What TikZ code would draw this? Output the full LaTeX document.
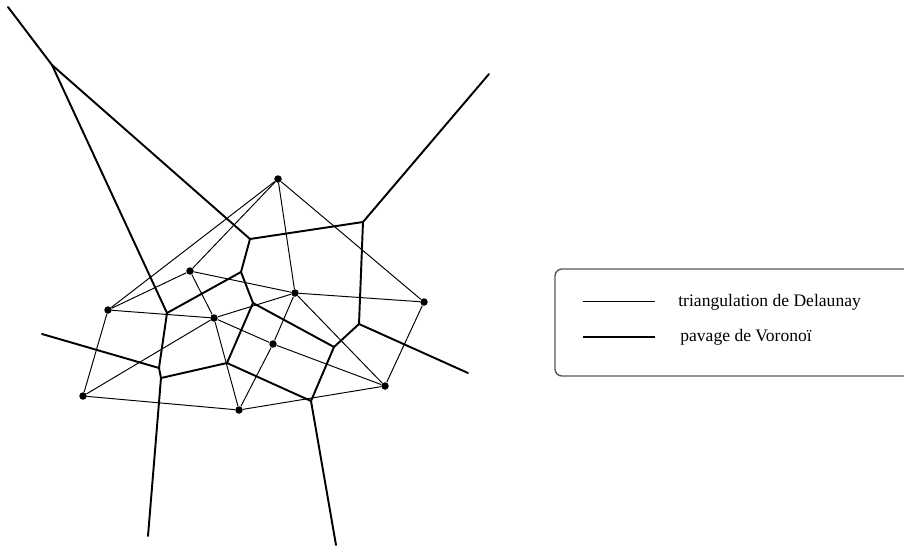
\documentclass[tikz,border=0pt]{standalone}
\usepackage{fontspec}
\setmainfont{Liberation Serif}
\usetikzlibrary{positioning}
\tikzset{
  dela/.style={line width=0.55pt, draw=black},
  voro/.style={line width=1.1pt, draw=black, line cap=round, line join=round},
  site/.style={circle, fill=black, inner sep=0pt, minimum size=1.5mm},
  legbox/.style={draw=black!65, line width=0.8pt, rounded corners=4pt},
  legtxt/.style={font=\normalsize, anchor=west, inner sep=0pt},
}

\begin{document}
\begin{tikzpicture}[x=0.2mm, y=-0.2mm]
  \useasboundingbox (0,0) rectangle (904,546);

  % sites
  \foreach \n/\x/\y in {a/278/179, b/190/271, c/295/293, d/424/302, e/108/310,
                        f/214/318, g/273/344, h/385/386, i/83/396, j/239/410}
    \node[site] (\n) at (\x,\y) {};

  % sommets de Voronoi
  \foreach \n/\x/\y in {v1/52/65, v2/250/239, v3/167/313, v4/363/222,
                        v5/359/324, v6/334/347, v7/311/401, v8/241/272,
                        v9/253/303, v10/227/363, v11/159/368, v12/161/378}
    \coordinate (\n) at (\x,\y);

  % bouts des demi-droites
  \coordinate (r1) at (8,7);
  \coordinate (r2) at (489,74);
  \coordinate (r3) at (468,373);
  \coordinate (r4) at (336,545);
  \coordinate (r5) at (148,536);
  \coordinate (r6) at (42,334);

  % triangulation de Delaunay
  \foreach \p/\q in {a/e, a/b, a/c, a/d, e/b, e/f, b/f, b/c, c/f, c/d, c/g,
                     c/h, d/h, f/g, g/h, g/j, f/j, e/i, i/f, i/j, j/h}
    \draw[dela] (\p) -- (\q);

  % pavage de Voronoi
  \foreach \p/\q in {v1/r1, v1/v2, v1/v3, v2/v4, v2/v8, v3/v8, v3/v11,
                     v11/v12, v11/r6, v12/r5, v12/v10, v4/r2, v4/v5, v5/r3,
                     v5/v6, v6/v9, v6/v7, v7/r4, v8/v9, v9/v10, v10/v7}
    \draw[voro] (\p) -- (\q);

  % legende
  \draw[legbox] (555,269) rectangle (920,376);
  \node[legtxt] (t1) at (678,302) {triangulation de Delaunay};
  \node[legtxt] (t2) at (680,337) {pavage de Voronoï};
  \coordinate (l1a) at (583,301);
  \coordinate (l1b) at (655,301);
  \coordinate (l2a) at (583,337);
  \coordinate (l2b) at (655,337);
  \draw[dela] (l1a) -- (l1b);
  \draw[voro, line cap=butt] (l2a) -- (l2b);
\end{tikzpicture}
\end{document}
